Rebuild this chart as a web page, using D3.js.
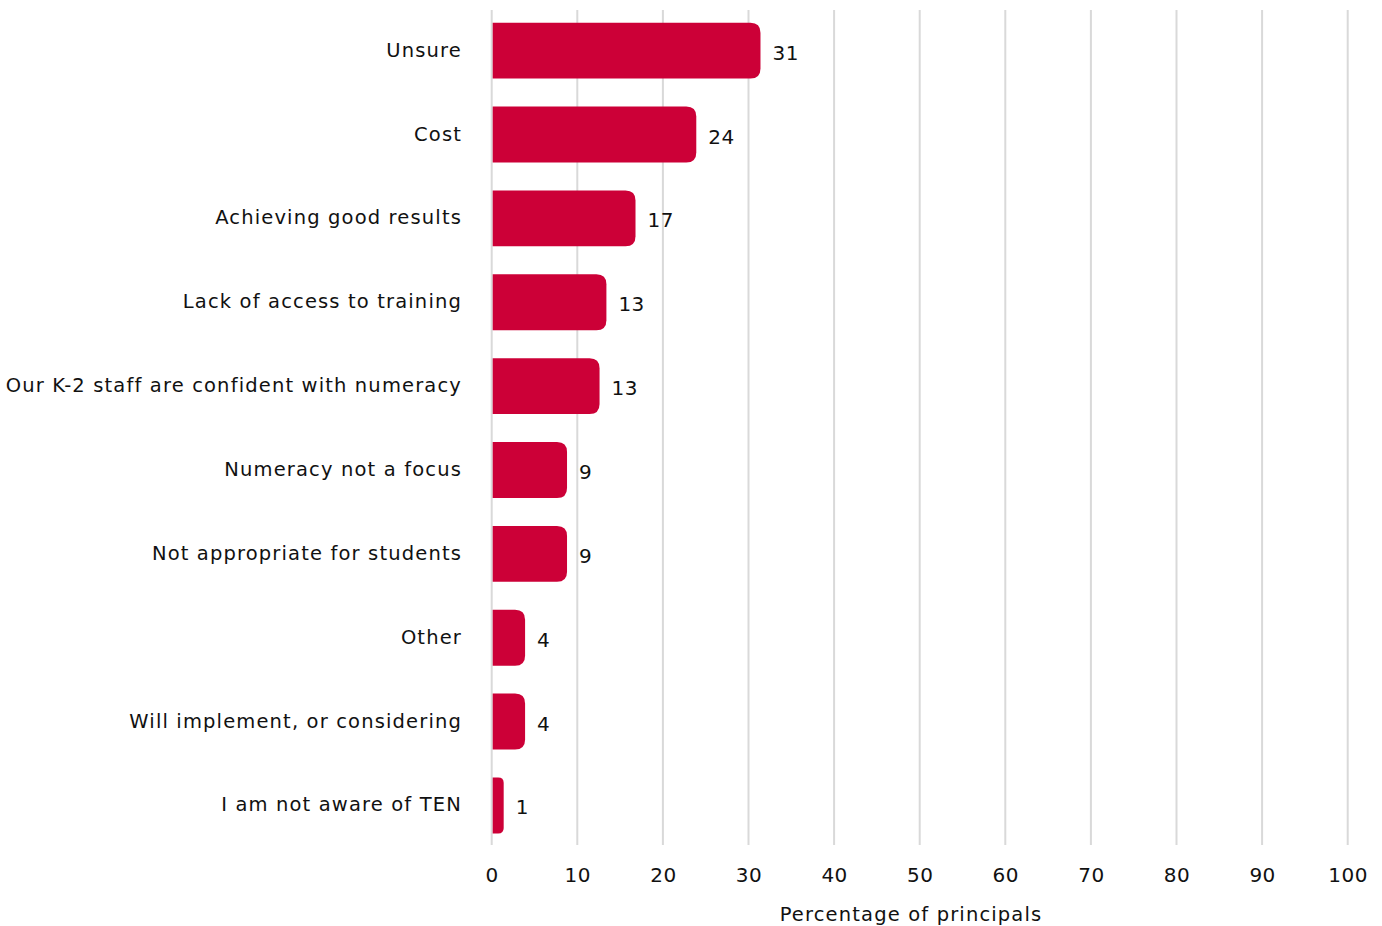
<!DOCTYPE html>
<html>
<head>
<meta charset="utf-8">
<script src="https://cdn.jsdelivr.net/npm/d3@7"></script>
<style>
  html, body { margin: 0; padding: 0; background: #ffffff; }
  svg text { font-family: "DejaVu Sans", "Noto Sans", sans-serif; fill: #111111; }
</style>
</head>
<body>
<svg id="chart" width="1382" height="926"></svg>
<script>
// Reasons given by principals (share of respondents, %)
const categories = [
  "Unsure",
  "Cost",
  "Achieving good results",
  "Lack of access to training",
  "Our K-2 staff are confident with numeracy",
  "Numeracy not a focus",
  "Not appropriate for students",
  "Other",
  "Will implement, or considering",
  "I am not aware of TEN"
];
const values = [31.4, 23.9, 16.8, 13.4, 12.6, 8.8, 8.8, 3.9, 3.9, 1.4];
const tickValues = [0, 10, 20, 30, 40, 50, 60, 70, 80, 90, 100];
const axisTitle = "Percentage of principals";

const svg = d3.select("#chart");

const x = d3.scaleLinear().domain([0, 100]).range([491.7, 1347.7]);
const y = d3.scaleBand()
  .domain(categories)
  .range([8.7, 847.4])
  .paddingInner(0.333)
  .paddingOuter(0.1665);

// vertical gridlines
svg.append("g")
  .selectAll("line")
  .data(tickValues)
  .join("line")
  .attr("x1", d => x(d)).attr("x2", d => x(d))
  .attr("y1", 10).attr("y2", 845)
  .attr("stroke", "#d9d9d9")
  .attr("stroke-width", 2);

// bars: flat at the baseline, rounded at the value end
const r = 10;
function barPath(v, cat) {
  const x0 = x(0) + 1, x1 = x(v);
  const y0 = y(cat), h = y.bandwidth(), y1 = y0 + h;
  const rr = Math.min(r, (x1 - x0) / 2, h / 2);
  return `M${x0},${y0}H${x1 - rr}Q${x1},${y0} ${x1},${y0 + rr}` +
         `V${y1 - rr}Q${x1},${y1} ${x1 - rr},${y1}H${x0}Z`;
}
const rows = categories.map((c, i) => ({ cat: c, val: values[i] }));

svg.append("g")
  .selectAll("path")
  .data(rows)
  .join("path")
  .attr("d", d => barPath(d.val, d.cat))
  .attr("fill", "#cc0037");

// value labels
svg.append("g")
  .selectAll("text")
  .data(rows)
  .join("text")
  .attr("x", d => x(d.val) + 12)
  .attr("y", d => y(d.cat) + y.bandwidth() / 2 + 9)
  .attr("font-size", 20)
  .attr("letter-spacing", 0.5)
  .text(d => d3.format(".0f")(d.val));

// category labels
svg.append("g")
  .selectAll("text")
  .data(rows)
  .join("text")
  .attr("x", 462)
  .attr("y", d => y(d.cat) + y.bandwidth() / 2 + 6)
  .attr("text-anchor", "end")
  .attr("font-size", 19.5)
  .attr("letter-spacing", 1.15)
  .text(d => d.cat);

// x axis tick labels
const axis = d3.axisBottom(x).tickValues(tickValues).tickSize(0).tickPadding(0);
const gx = svg.append("g").attr("transform", "translate(0,867)").call(axis);
gx.select(".domain").remove();
gx.selectAll("text")
  .attr("font-size", 20)
  .attr("font-family", "'DejaVu Sans', sans-serif")
  .attr("fill", "#111111")
  .attr("letter-spacing", 0.5)
  .attr("dy", "0.76em");

// axis title
svg.append("text")
  .attr("x", 911)
  .attr("y", 921)
  .attr("text-anchor", "middle")
  .attr("font-size", 19.5)
  .attr("letter-spacing", 1.15)
  .text(axisTitle);
</script>
</body>
</html>
